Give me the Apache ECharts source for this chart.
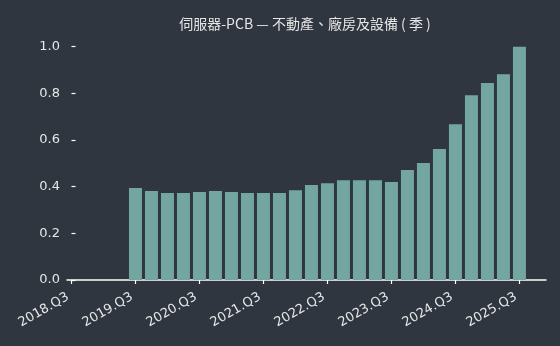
<!DOCTYPE html>
<html>
<head>
<meta charset="utf-8">
<script src="https://cdn.jsdelivr.net/npm/echarts@6/dist/echarts.min.js"></script>
<style>
html,body{margin:0;padding:0;background:#2f363f;}
#chart{width:560px;height:346px;}
</style>
</head>
<body>
<div id="chart"></div>
<script>
const titleText = "伺服器-PCB — 不動產、廠房及設備（季）";
const quarters = ["2019.Q3","2019.Q4","2020.Q1","2020.Q2","2020.Q3","2020.Q4","2021.Q1","2021.Q2","2021.Q3","2021.Q4","2022.Q1","2022.Q2","2022.Q3","2022.Q4","2023.Q1","2023.Q2","2023.Q3","2023.Q4","2024.Q1","2024.Q2","2024.Q3","2024.Q4","2025.Q1","2025.Q2","2025.Q3"];
const values = [0.394,0.381,0.373,0.373,0.377,0.381,0.377,0.373,0.373,0.373,0.385,0.407,0.415,0.428,0.428,0.428,0.420,0.471,0.501,0.561,0.668,0.792,0.844,0.882,1.0];
const xTickLabels = ["2018.Q3","2019.Q3","2020.Q3","2021.Q3","2022.Q3","2023.Q3","2024.Q3","2025.Q3"];
const yTicks = [0,0.2,0.4,0.6,0.8,1.0];

function qIndex(q){ // quarters since 2018.Q3
  const [y, qq] = q.split(".Q");
  return (parseInt(y) - 2018) * 4 + (parseInt(qq) - 3);
}
const barData = quarters.map((q,i)=>[qIndex(q), values[i]]);
const xTickPos = xTickLabels.map(qIndex);

const textColor = "#e6e6e6";
const font = "DejaVu Sans, 'Noto Sans CJK TC', sans-serif";
const chart = echarts.init(document.getElementById('chart'));
chart.setOption({
  backgroundColor: "#2f363f",
  animation: false,
  title: {
    text: titleText.replace("（", " ( ").replace("）", " )"), left: 300, top: 12, textAlign: 'center',
    textStyle: {color: textColor, fontSize: 14, fontWeight: 'normal', fontFamily: "'Noto Sans CJK TC', sans-serif"}
  },
  grid: {left: 67, right: 14, top: 35, bottom: 66},
  xAxis: {
    type: 'value', min: -0.28, max: 29.66,
    splitLine: {show: false},
    axisLine: {show: true, onZero: false, lineStyle: {color: '#ffffff', width: 1.5}},
    axisTick: {show: true, customValues: xTickPos, length: 4, lineStyle: {color: '#ffffff', width: 1.2}},
    axisLabel: {
      customValues: xTickPos, rotate: 30, color: textColor, fontSize: 13, fontFamily: font, margin: 14,
      formatter: v => { const i = xTickPos.indexOf(Math.round(v)); return i >= 0 ? xTickLabels[i] + ' ' : ''; }
    }
  },
  yAxis: {
    type: 'value', min: 0, max: 1.05,
    splitLine: {show: false},
    axisLine: {show: false},
    axisTick: {show: true, customValues: yTicks, inside: true, length: 4, lineStyle: {color: '#ffffff', width: 1.2}},
    axisLabel: {customValues: yTicks, color: textColor, fontSize: 13, fontFamily: font, margin: 7,
      formatter: v => v.toFixed(1)}
  },
  series: [{
    type: 'bar', data: barData, barWidth: 13,
    itemStyle: {color: '#73a6a0'}
  }]
});
</script>
</body>
</html>
